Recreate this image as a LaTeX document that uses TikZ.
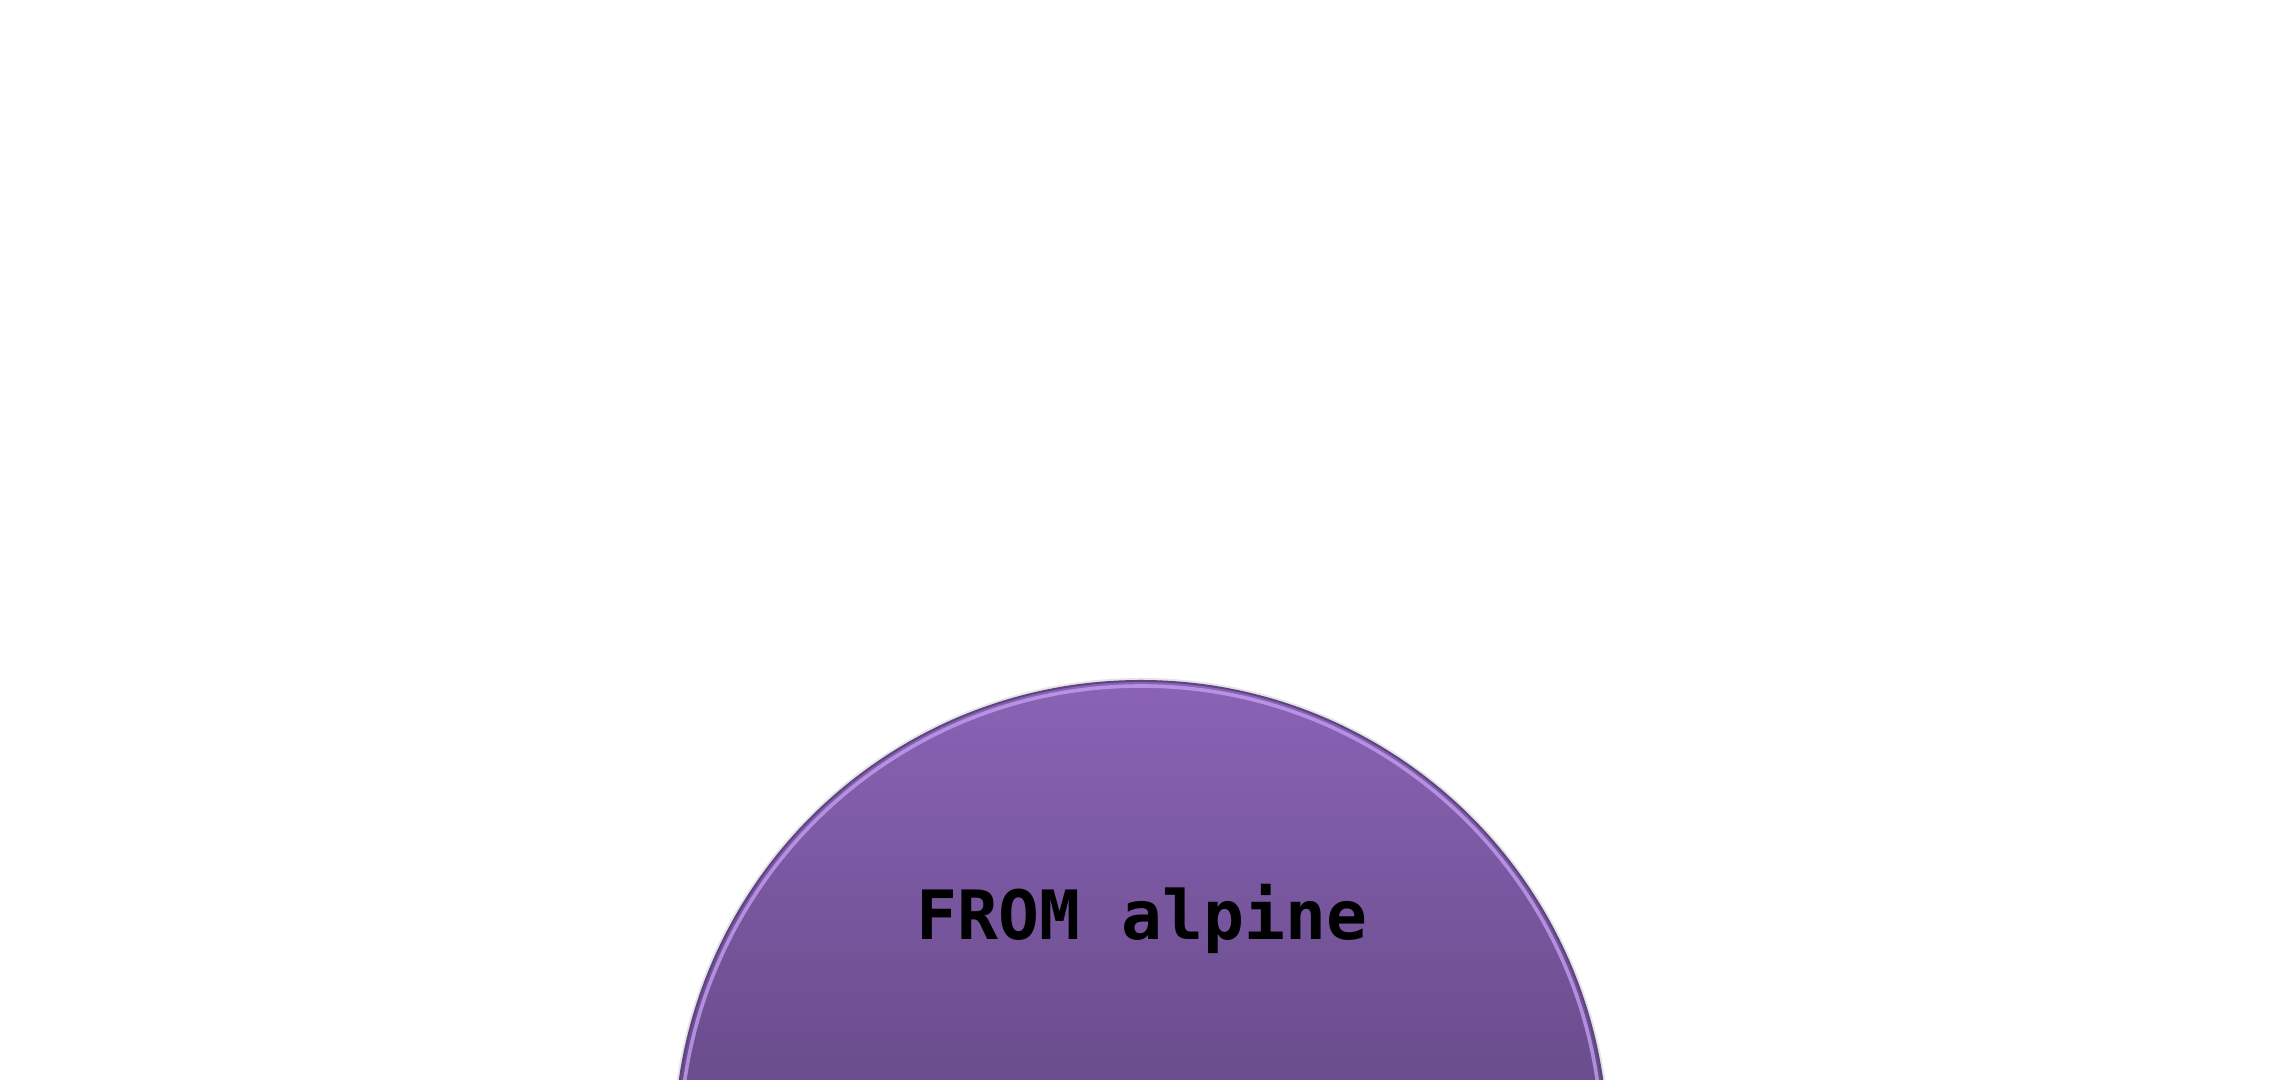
\documentclass[tikz,border=0pt]{standalone}
\usepackage{fontspec}
\setmonofont{DejaVu Sans Mono}
\usepackage{tikz}
\definecolor{layertop}{HTML}{8A63B5}
\definecolor{layerbottom}{HTML}{6A4D8D}
\definecolor{layerrim}{HTML}{5E4483}
\definecolor{layerglow}{HTML}{C39EF0}
\tikzset{layer/.style={draw=layerrim,line width=1pt,path picture={\foreach \k in {0,...,39} {\pgfmathtruncatemacro{\pct}{100-\k*100/39}\fill[layertop!\pct!layerbottom] (0,{400-\k*10-10.5}) rectangle (2285,{400-\k*10});}}},layer label/.style={font=\ttfamily\bfseries\fontsize{34}{40}\selectfont,text=black,inner sep=0pt}}
\begin{document}
\begin{tikzpicture}[x=0.5pt,y=0.5pt]
 \useasboundingbox (0,0) rectangle (2285,1080);
 \clip (0,0) rectangle (2285,1080);
 \coordinate (centre) at (1141,-67);
 \fill[black!10] (centre) circle[radius=469];
 \path[layer] (centre) circle[radius=466];
 \draw[layerglow,line width=1.8pt,opacity=.8] (centre) circle[radius=461];
 \node[layer label,anchor=base] (base) at (1142,140) {FROM alpine};
\end{tikzpicture}
\end{document}
